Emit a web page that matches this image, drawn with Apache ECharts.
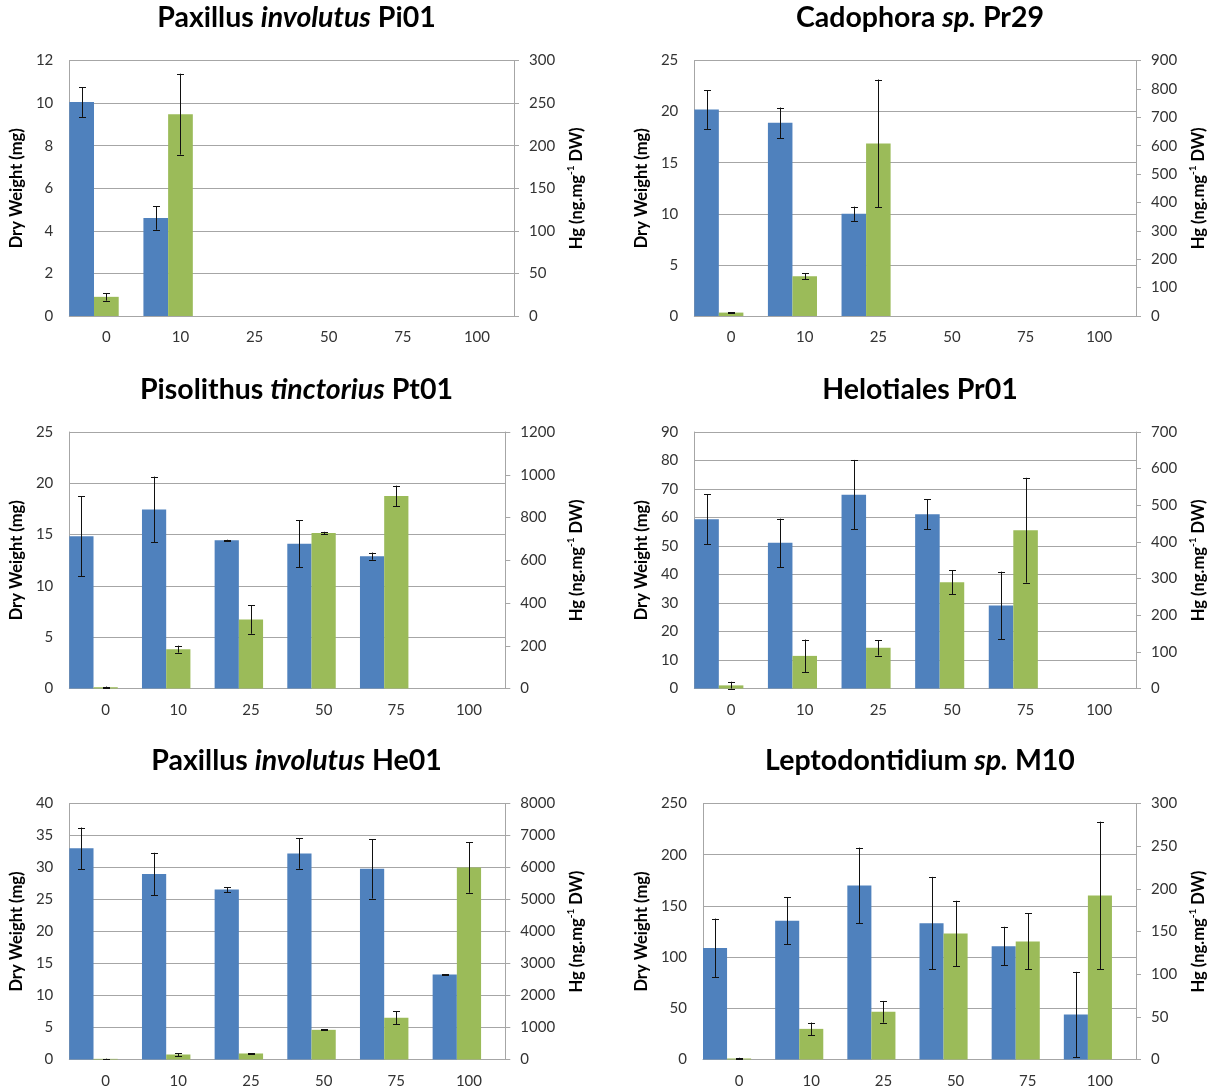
<!DOCTYPE html>
<html>
<head>
<meta charset="utf-8">
<script src="https://cdn.jsdelivr.net/npm/echarts@6/dist/echarts.min.js"></script>
<style>
html,body{margin:0;padding:0;background:#fff;}
#wrap{position:relative;width:1215px;height:1089px;overflow:hidden;}
.p{position:absolute;}
</style>
</head>
<body>
<div id="wrap">
  <div class="p" id="c1" style="left:0px;top:0px;width:593px;height:372px;"></div>
  <div class="p" id="c2" style="left:625px;top:0px;width:590px;height:372px;"></div>
  <div class="p" id="c3" style="left:0px;top:372px;width:593px;height:372px;"></div>
  <div class="p" id="c4" style="left:625px;top:372px;width:590px;height:372px;"></div>
  <div class="p" id="c5" style="left:0px;top:743px;width:593px;height:346px;"></div>
  <div class="p" id="c6" style="left:625px;top:743px;width:590px;height:346px;"></div>
</div>
<script>
// ---------- DATA ----------
const categories = ['0', '10', '25', '50', '75', '100'];

// Panel 1: Paxillus involutus Pi01
const p1Title = ['Paxillus ', 'involutus', ' Pi01'];
const p1DW = [10.05, 4.6, null, null, null, null];
const p1DWErr = [0.7, 0.55, null, null, null, null];
const p1Hg = [22.5, 237, null, null, null, null];
const p1HgErr = [4.5, 47.5, null, null, null, null];
const p1LeftTicks = [0, 12, 2];
const p1RightTicks = [0, 300, 50];

// Panel 2: Cadophora sp. Pr29
const p2Title = ['Cadophora ', 'sp.', ' Pr29'];
const p2DW = [20.2, 18.9, 10.0, null, null, null];
const p2DWErr = [1.9, 1.5, 0.7, null, null, null];
const p2Hg = [12, 140, 608, null, null, null];
const p2HgErr = [2, 10, 225, null, null, null];
const p2LeftTicks = [0, 25, 5];
const p2RightTicks = [0, 900, 100];

// Panel 3: Pisolithus tinctorius Pt01
const p3Title = ['Pisolithus ', 'tinctorius', ' Pt01'];
const p3DW = [14.85, 17.45, 14.45, 14.1, 12.9, null];
const p3DWErr = [3.9, 3.2, 0.05, 2.3, 0.35, null];
const p3Hg = [6, 184, 323, 728, 901, null];
const p3HgErr = [3, 16.5, 67, 5, 48, null];
const p3LeftTicks = [0, 25, 5];
const p3RightTicks = [0, 1200, 200];

// Panel 4: Helotiales Pr01
const p4Title = ['Helotiales Pr01', '', ''];
const p4DW = [59.4, 51.1, 68.0, 61.1, 29.1, null];
const p4DWErr = [8.7, 8.5, 12.2, 5.3, 11.9, null];
const p4Hg = [8.5, 89, 111, 290, 432, null];
const p4HgErr = [10, 44.5, 21, 32.5, 143, null];
const p4LeftTicks = [0, 90, 10];
const p4RightTicks = [0, 700, 100];

// Panel 5: Paxillus involutus He01
const p5Title = ['Paxillus ', 'involutus', ' He01'];
const p5DW = [33.0, 29.0, 26.55, 32.2, 29.8, 13.3];
const p5DWErr = [3.25, 3.3, 0.4, 2.4, 4.65, 0.05];
const p5Hg = [20, 156, 188, 927, 1302, 6000];
const p5HgErr = [5, 47, 15, 15, 200, 790];
const p5LeftTicks = [0, 40, 5];
const p5RightTicks = [0, 8000, 1000];

// Panel 6: Leptodontidium sp. M10
const p6Title = ['Leptodontidium ', 'sp.', ' M10'];
const p6DW = [109.0, 135.4, 169.9, 133.1, 110.7, 43.9];
const p6DWErr = [28.6, 23, 37, 45.2, 18.9, 41.7];
const p6Hg = [1.2, 35.9, 55.9, 147.7, 138.3, 192.2];
const p6HgErr = [0.8, 7.4, 12.7, 38.3, 32.8, 86.5];
const p6LeftTicks = [0, 250, 50];
const p6RightTicks = [0, 300, 50];

// ---------- STYLE / LAYOUT ----------
const FONT = 'Lato, "Open Sans", sans-serif';
const BLUE = '#4F81BD';
const GREEN = '#9BBB59';
const GRID_COLOR = '#a6a6a6';
const LABEL_COLOR = '#333333';

const panels = [
  { id: 'c1', title: p1Title, dw: p1DW, dwErr: p1DWErr, hg: p1Hg, hgErr: p1HgErr, lt: p1LeftTicks, rt: p1RightTicks, grid: { left: 67, top: 60.5, width: 451.5, height: 255.5 } },
  { id: 'c2', title: p2Title, dw: p2DW, dwErr: p2DWErr, hg: p2Hg, hgErr: p2HgErr, lt: p2LeftTicks, rt: p2RightTicks, grid: { left: 65.5, top: 60.5, width: 451, height: 255.5 } },
  { id: 'c3', title: p3Title, dw: p3DW, dwErr: p3DWErr, hg: p3Hg, hgErr: p3HgErr, lt: p3LeftTicks, rt: p3RightTicks, grid: { left: 67.5, top: 60, width: 443.5, height: 256.5 } },
  { id: 'c4', title: p4Title, dw: p4DW, dwErr: p4DWErr, hg: p4Hg, hgErr: p4HgErr, lt: p4LeftTicks, rt: p4RightTicks, grid: { left: 65.5, top: 60, width: 449.5, height: 256.5 } },
  { id: 'c5', title: p5Title, dw: p5DW, dwErr: p5DWErr, hg: p5Hg, hgErr: p5HgErr, lt: p5LeftTicks, rt: p5RightTicks, grid: { left: 67.5, top: 60.5, width: 443.5, height: 256 } },
  { id: 'c6', title: p6Title, dw: p6DW, dwErr: p6DWErr, hg: p6Hg, hgErr: p6HgErr, lt: p6LeftTicks, rt: p6RightTicks, grid: { left: 74, top: 60.5, width: 440, height: 256 } }
];

function errData(vals, errs) {
  const out = [];
  vals.forEach((v, i) => { if (v != null && errs[i] != null) out.push([i, v, errs[i]]); });
  return out;
}

function errSeries(vals, errs, yIdx, shift) {
  return {
    type: 'custom',
    yAxisIndex: yIdx,
    z: 5,
    silent: true,
    data: errData(vals, errs),
    encode: { x: 0, y: 1 },
    renderItem: function (params, api) {
      const i = api.value(0), v = api.value(1), e = api.value(2);
      const band = api.size([1, 0])[0];
      const hi = api.coord([i, v + e]);
      const lo = api.coord([i, Math.max(0, v - e)]);
      const x = Math.round(hi[0] + shift * band) + 0.5;
      const cap = 3.5;
      const st = { stroke: '#111', lineWidth: 1 };
      return {
        type: 'group',
        children: [
          { type: 'line', shape: { x1: x, y1: hi[1], x2: x, y2: lo[1] }, style: st },
          { type: 'line', shape: { x1: x - cap, y1: Math.round(hi[1]) + 0.5, x2: x + cap, y2: Math.round(hi[1]) + 0.5 }, style: st },
          { type: 'line', shape: { x1: x - cap, y1: Math.round(lo[1]) + 0.5, x2: x + cap, y2: Math.round(lo[1]) + 0.5 }, style: st }
        ]
      };
    }
  };
}

panels.forEach(p => {
  const chart = echarts.init(document.getElementById(p.id), null, { renderer: 'canvas' });
  const t = p.title;
  const titleText = t[1] ? '{b|' + t[0] + '}{bi|' + t[1] + '}{b|' + t[2] + '}' : '{b|' + t[0] + '}';
  const option = {
    animation: false,
    backgroundColor: '#fff',
    title: {
      text: titleText,
      left: 'center',
      top: 1,
      padding: 0,
      textStyle: {
        rich: {
          b: { fontFamily: FONT, fontWeight: 'bold', fontSize: 28.5, color: '#000', lineHeight: 34 },
          bi: { fontFamily: FONT, fontWeight: 'bold', fontStyle: 'italic', fontSize: 28.5, color: '#000', lineHeight: 34 }
        }
      }
    },
    grid: p.grid,
    xAxis: {
      type: 'category',
      data: categories,
      axisLine: { show: true, lineStyle: { color: GRID_COLOR, width: 1 } },
      axisTick: { show: false },
      axisLabel: { color: LABEL_COLOR, fontFamily: FONT, fontSize: 15, margin: 14 },
      splitLine: { show: false }
    },
    yAxis: [
      {
        type: 'value',
        min: p.lt[0], max: p.lt[1], interval: p.lt[2],
        position: 'left',
        name: 'Dry Weight (mg)',
        nameLocation: 'middle',
        nameRotate: 90,
        nameGap: 40,
        nameTextStyle: { fontFamily: FONT, fontWeight: 'bold', fontSize: 16.5, color: '#000', verticalAlign: 'bottom' },
        axisLine: { show: true, lineStyle: { color: GRID_COLOR, width: 1 } },
        axisTick: { show: false },
        axisLabel: { color: LABEL_COLOR, fontFamily: FONT, fontSize: 15, margin: 16 },
        splitLine: { show: true, lineStyle: { color: GRID_COLOR, width: 1 } }
      },
      {
        type: 'value',
        min: p.rt[0], max: p.rt[1], interval: p.rt[2],
        position: 'right',
        name: '{a|Hg (ng.mg}{s|-1}{a| DW)}',
        nameLocation: 'middle',
        nameRotate: 90,
        nameGap: 51,
        nameTextStyle: {
          verticalAlign: 'top',
          rich: {
            a: { fontFamily: FONT, fontWeight: 'bold', fontSize: 16.5, color: '#000', lineHeight: 19, verticalAlign: 'bottom' },
            s: { fontFamily: FONT, fontWeight: 'bold', fontSize: 10, color: '#000', lineHeight: 19, verticalAlign: 'top' }
          }
        },
        axisLine: { show: true, lineStyle: { color: GRID_COLOR, width: 1 } },
        axisTick: { show: true, inside: false, length: 5, lineStyle: { color: GRID_COLOR } },
        axisLabel: { color: LABEL_COLOR, fontFamily: FONT, fontSize: 15, margin: 15, formatter: v => String(v) },
        splitLine: { show: false }
      }
    ],
    series: [
      { type: 'bar', name: 'Dry weight', yAxisIndex: 0, data: p.dw.map(v => v == null ? '-' : v), barWidth: '33.333%', barGap: '0%', barCategoryGap: '0%', itemStyle: { color: BLUE } },
      { type: 'bar', name: 'Hg', yAxisIndex: 1, data: p.hg.map(v => v == null ? '-' : v), barWidth: '33.333%', barGap: '0%', barCategoryGap: '0%', itemStyle: { color: GREEN } },
      { type: 'bar', name: 'spacer', yAxisIndex: 0, data: categories.map(() => '-'), barWidth: '33.333%', barGap: '0%', barCategoryGap: '0%', itemStyle: { color: 'rgba(0,0,0,0)' }, silent: true },
      errSeries(p.dw, p.dwErr, 0, -1 / 3),
      errSeries(p.hg, p.hgErr, 1, 0)
    ]
  };
  chart.setOption(option);
});
</script>
</body>
</html>
